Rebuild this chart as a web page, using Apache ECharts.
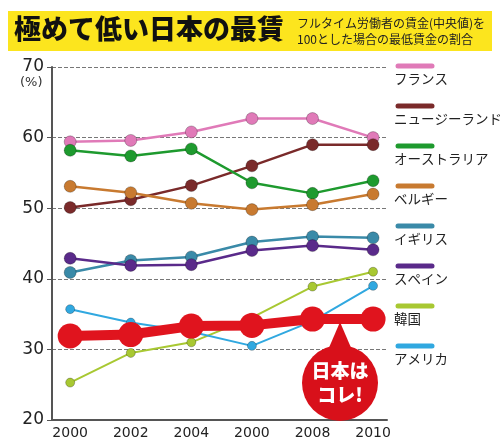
<!DOCTYPE html><html><head><meta charset="utf-8"><script src="https://cdn.jsdelivr.net/npm/echarts@6/dist/echarts.min.js"></script>
<style>body{margin:0}#c{width:500px;height:448px}</style></head><body><div id="c"></div><script>
const years=['2000','2002','2004','2000','2008','2010'];
const names=['フランス','ニュージーランド','オーストラリア','ベルギー','イギリス','スペイン','韓国','アメリカ'];
const colors=['#e07ab8','#7a2a2a','#1e9a2e','#c87a30','#3a8aa8','#5a2a8a','#a8c832','#30a8e0'];
const france=[59.4,59.6,60.8,62.7,62.7,60];
const nz=[50.1,51.2,53.2,56,59,59];
const australia=[58.2,57.4,58.4,53.6,52.1,53.9];
const belgium=[53.1,52.2,50.7,49.8,50.5,52];
const uk=[40.9,42.6,43.1,45.2,46.0,45.8];
const spain=[42.9,41.9,42,44,44.7,44.1];
const korea=[25.3,29.5,31,34.5,38.9,41];
const usa=[35.7,33.8,32.5,30.5,34,39];
const japan=[31.9,32.1,33.3,33.4,34.3,34.3];
const japanName='日本';
const yTicks=[20,30,40,50,60,70];
const all=[france,nz,australia,belgium,uk,spain,korea,usa];
const pts=d=>d.map((v,i)=>[i,v]);
const ch=echarts.init(document.getElementById('c'));
const series=all.map((d,i)=>({name:names[i],type:'line',data:pts(d),symbol:'circle',symbolSize:i>=6?9:12,
 lineStyle:{color:colors[i],width:i>=6?2:2.5},itemStyle:{color:colors[i],borderColor:'rgba(0,0,0,0.25)',borderWidth:1},z:2}));
series.push({name:japanName,type:'line',data:pts(japan),symbol:'circle',symbolSize:25,lineStyle:{color:'#e0141e',width:10},itemStyle:{color:'#e0141e'},z:5});
const g=[
 {type:'rect',shape:{x:8,y:11,width:484,height:40},style:{fill:'#fce51e'}},
 {type:'text',left:14,top:15,style:{text:'極めて低い日本の最賃',font:'900 27px "Noto Sans CJK JP"',fill:'#111'}},
 {type:'text',left:297,top:15,style:{text:'フルタイム労働者の賃金(中央値)を\n100とした場合の最低賃金の割合',font:'12px "Noto Sans CJK JP"',fill:'#222',lineHeight:16}},
 {type:'text',left:20,top:76,style:{text:'(%)',font:'13px "DejaVu Sans"',fill:'#333'}},
 {type:'circle',shape:{cx:340,cy:383,r:38},style:{fill:'#d8101a'},z:10},
 {type:'polygon',shape:{points:[[328,350],[340,322],[352,350]]},style:{fill:'#d8101a'},z:10},
 {type:'text',x:340,y:383,style:{text:'日本は\nコレ!',font:'900 19px "Noto Sans CJK JP"',fill:'#fff',align:'center',verticalAlign:'middle',lineHeight:24},z:11}
];
names.forEach((n,i)=>{const y=66+i*40;
 g.push({type:'line',shape:{x1:398,y1:y,x2:432,y2:y},style:{stroke:colors[i],lineWidth:5,lineCap:'round'}});
 g.push({type:'text',left:394,top:y+6,style:{text:n,font:'13.5px "Noto Sans CJK JP"',fill:'#222'}});});
ch.setOption({animation:false,backgroundColor:'#fff',
 grid:{left:52,right:113,top:67,bottom:28},
 xAxis:{type:'value',min:-0.3,max:5.23,axisLine:{onZero:false,lineStyle:{color:'#555',width:2}},axisTick:{show:false},splitLine:{show:false},
  axisLabel:{customValues:[0,1,2,3,4,5],formatter:v=>years[Math.round(v)],color:'#222',fontSize:14,fontFamily:'DejaVu Sans',margin:6}},
 yAxis:{type:'value',min:yTicks[0],max:yTicks[yTicks.length-1],interval:10,axisLine:{show:true,onZero:false,lineStyle:{color:'#555',width:2}},
  axisLabel:{color:'#222',fontSize:17,fontFamily:'DejaVu Sans',margin:8,verticalAlign:'middle'},
  splitLine:{lineStyle:{type:'dashed',color:'#777'}}},
 series,graphic:g});
</script></body></html>
